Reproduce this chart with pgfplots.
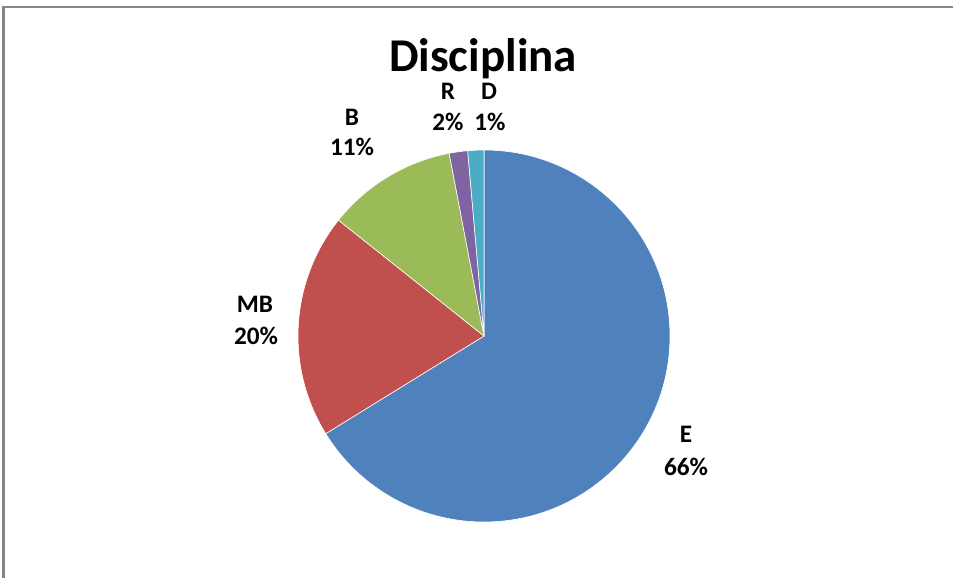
\documentclass[border=0pt]{standalone}
\usepackage{pgfplots}
\usepackage{pgfplotstable}
\usepackage{fontspec}
\setmainfont{Carlito}
\pgfplotsset{compat=1.18}
\definecolor{cE}{HTML}{4F81BD}
\definecolor{cMB}{HTML}{C0504D}
\definecolor{cB}{HTML}{9BBB59}
\definecolor{cR}{HTML}{8064A2}
\definecolor{cD}{HTML}{4BACC6}
\definecolor{frame}{HTML}{868686}
\pgfplotstableread{
name value
E 66.2
MB 19.5
B 11.3
R 1.6
D 1.4
}\piedata
\begin{document}
\begin{tikzpicture}
\pgfplotstablegetelem{0}{value}\of\piedata \let\vE\pgfplotsretval
\pgfplotstablegetelem{1}{value}\of\piedata \let\vMB\pgfplotsretval
\pgfplotstablegetelem{2}{value}\of\piedata \let\vB\pgfplotsretval
\pgfplotstablegetelem{3}{value}\of\piedata \let\vR\pgfplotsretval
\pgfplotstablegetelem{4}{value}\of\piedata \let\vD\pgfplotsretval
\pgfmathsetmacro\aA{90-3.6*\vE}
\pgfmathsetmacro\aB{\aA-3.6*\vMB}
\pgfmathsetmacro\aC{\aB-3.6*\vB}
\pgfmathsetmacro\aD{\aC-3.6*\vR}
\pgfmathsetmacro\aF{\aD-3.6*\vD}
\begin{axis}[
  scale only axis, width=476.5pt, height=289pt,
  xmin=0, xmax=953, ymin=0, ymax=578,
  hide axis, clip=false,
]
\draw[frame, line width=1.2pt] (axis cs:3.5,0) -- (axis cs:3.5,571) -- (axis cs:953,571);
\def\pie#1#2#3{\fill[#1, draw=white, line width=0.3pt] (axis cs:484,242) -- ++(#2:93pt) arc[start angle=#2, end angle=#3, radius=93pt] -- cycle;}
\pie{cE}{90}{\aA}
\pie{cMB}{\aA}{\aB}
\pie{cB}{\aB}{\aC}
\pie{cR}{\aC}{\aD}
\pie{cD}{\aD}{\aF}
\node[anchor=base, font=\bfseries\fontsize{23.5}{28}\selectfont, inner sep=0pt] at (axis cs:483,506) {Disciplina};
\tikzset{lab/.style={anchor=base, font=\bfseries\fontsize{12.6}{14}\selectfont, inner sep=0pt}}
\node[lab] at (axis cs:448,478) {R};
\node[lab] at (axis cs:448,447) {2\%};
\node[lab] at (axis cs:489,478) {D};
\node[lab] at (axis cs:490,447) {1\%};
\node[lab] at (axis cs:352,452) {B};
\node[lab] at (axis cs:352,422) {11\%};
\node[lab] at (axis cs:255,265) {MB};
\node[lab] at (axis cs:256,233) {20\%};
\node[lab] at (axis cs:686,135) {E};
\node[lab] at (axis cs:686,103) {66\%};
\end{axis}
\pgfresetboundingbox
\useasboundingbox (current axis.south west) rectangle (current axis.north east);
\end{tikzpicture}
\end{document}
